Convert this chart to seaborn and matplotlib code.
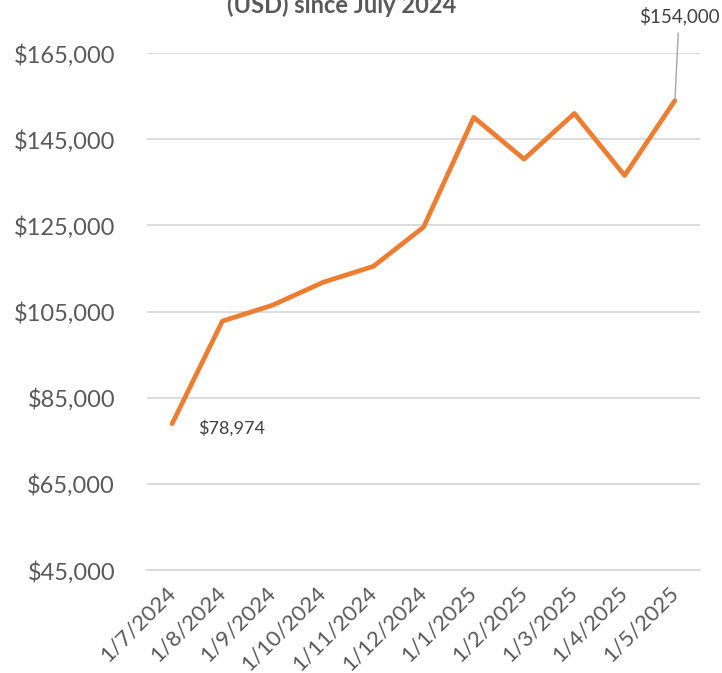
import matplotlib
matplotlib.use("Agg")
import matplotlib.pyplot as plt
import seaborn as sns
import pandas as pd

# data
months = ["1/7/2024", "1/8/2024", "1/9/2024", "1/10/2024", "1/11/2024",
          "1/12/2024", "1/1/2025", "1/2/2025", "1/3/2025", "1/4/2025",
          "1/5/2025"]
price = [78974, 102800, 106500, 111800, 115500, 124600,
         150100, 140400, 151000, 136600, 154000]
yticks = [45000, 65000, 85000, 105000, 125000, 145000, 165000]

df = pd.DataFrame({"pos": range(len(months)), "price": price})

sns.set_style("white")
plt.rcParams["font.family"] = ["Lato", "DejaVu Sans"]

fig = plt.figure(figsize=(7.22, 6.73), dpi=100)
ax = fig.add_axes([0.2036, 0.153, 0.766, 0.768])

sns.lineplot(data=df, x="pos", y="price", color="#ED7D31", linewidth=3.4,
             ax=ax, zorder=3)
ax.lines[0].set_solid_joinstyle("round")
ax.lines[0].set_solid_capstyle("round")

ax.set_xlim(-0.5, len(months) - 0.5)
ax.set_ylim(45000, 165000)
ax.set_yticks(yticks)
ax.set_yticklabels([f"${v:,.0f}" for v in yticks], fontsize=17, color="#595959")
ax.set_xticks(range(len(months)))
ax.set_xticklabels(months, rotation=45, ha="right", va="center",
                   rotation_mode="anchor", fontsize=16, color="#595959")
ax.set_xticks([i - 0.5 for i in range(len(months) + 1)], minor=True)
ax.tick_params(axis="x", which="major", length=0, pad=14)
ax.tick_params(axis="x", which="minor", length=7, color="#D9D9D9", width=1.3)
ax.tick_params(axis="y", length=0, pad=23)
ax.set_xlabel("")
ax.set_ylabel("")

ax.yaxis.grid(True, color="#D9D9D9", linewidth=1.3)
ax.set_axisbelow(True)
for s in ["left", "right", "top"]:
    ax.spines[s].set_visible(False)
ax.spines["bottom"].set_color("#D9D9D9")
ax.spines["bottom"].set_linewidth(1.3)

# data labels
ax.annotate(f"${price[0]:,}", xy=(0, price[0]), xytext=(19, -3),
            textcoords="offset points", fontsize=13, color="#404040",
            va="center", ha="left")
ax.annotate(f"${price[-1]:,}", xy=(len(months) - 1, price[-1]),
            xytext=(3, 54), textcoords="offset points", fontsize=13.5,
            color="#404040", va="bottom", ha="center",
            arrowprops=dict(arrowstyle="-", color="#A6A6A6", lw=1,
                            shrinkA=3, shrinkB=0),
            annotation_clip=False)

fig.text(0.473, 0.981, "(USD) since July 2024", ha="center", va="baseline",
         fontsize=17, fontweight="bold", color="#595959")

fig.savefig("out.png", dpi=100)
